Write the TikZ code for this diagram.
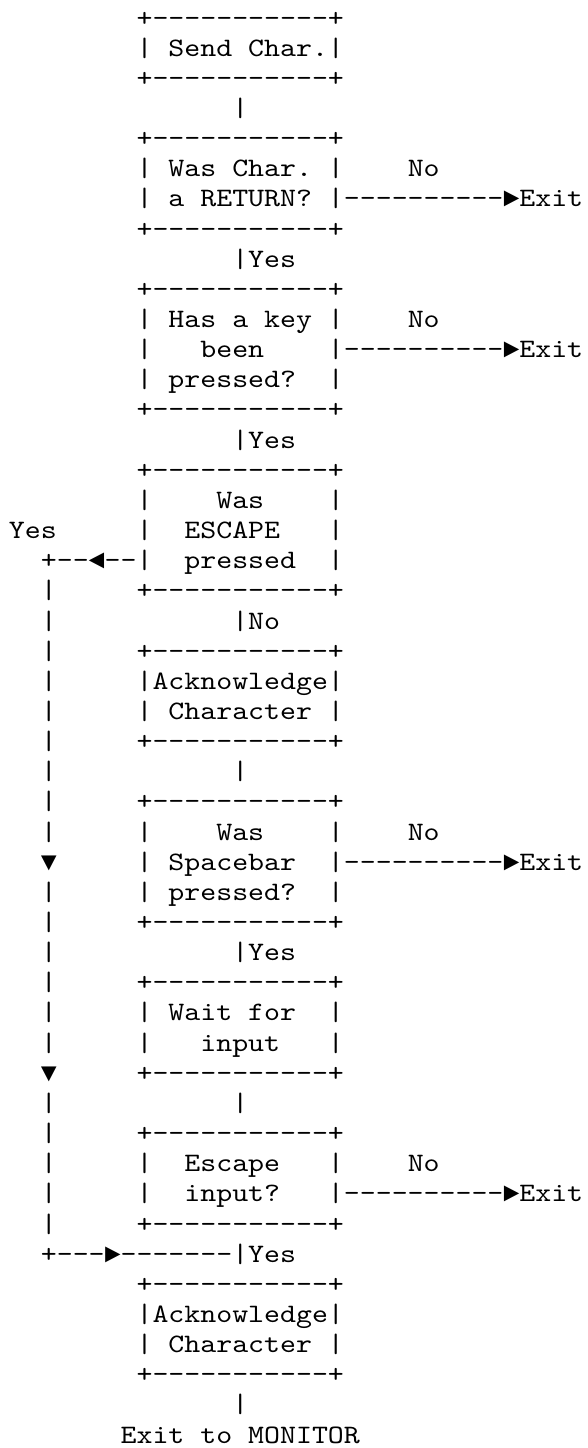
\documentclass[tikz,border=0pt]{standalone}
\usepackage{fontspec}
\setmonofont{lmmono10-regular}[Extension=.otf, FakeStretch=1.142]
\newfontfamily\tipfont{Liberation Mono}
\frenchspacing

% one character cell = 7.975pt wide, one text line = 15.075pt high
\tikzset{
  ascii/.style = {font = \ttfamily\fontsize{13.3pt}{15pt}\selectfont, inner sep = 0pt, outer sep = 0pt, anchor = base west},
  tip/.style = {ascii, font = \tipfont\fontsize{13.3pt}{15pt}\selectfont}
}

\begin{document}
\begin{tikzpicture}[x = 7.975pt, y = -15.075pt]
\useasboundingbox (-4.5pt,-2.075pt) rectangle (289.5pt,-726.075pt);

% Send Char.
\node[ascii] (send-t) at (8,1) {+-----------+};
\node[ascii] (send)   at (8,2) {| Send Char.|};
\node[ascii] (send-b) at (8,3) {+-----------+};
\node[ascii] (l1)     at (14,4) {|};

% Was Char. a RETURN?
\node[ascii] (ret-t)    at (8,5) {+-----------+};
\node[ascii] (ret-1)    at (8,6) {| Was Char. |};
\node[ascii] (ret-2)    at (8,7) {| a RETURN? |};
\node[ascii] (ret-b)    at (8,8) {+-----------+};
\node[ascii] (ret-no)   at (25,6) {No};
\node[ascii] (ret-out)  at (21,7) {----------};
\node[tip]   (ret-tip)  at (31,7) {►};
\node[ascii] (ret-exit) at (32,7) {Exit};
\node[ascii] (l2)       at (14,9) {|Yes};

% Has a key been pressed?
\node[ascii] (key-t)    at (8,10) {+-----------+};
\node[ascii] (key-1)    at (8,11) {| Has a key |};
\node[ascii] (key-2)    at (8,12) {|~~~been~~~~|};
\node[ascii] (key-3)    at (8,13) {| pressed?~~|};
\node[ascii] (key-b)    at (8,14) {+-----------+};
\node[ascii] (key-no)   at (25,11) {No};
\node[ascii] (key-out)  at (21,12) {----------};
\node[tip]   (key-tip)  at (31,12) {►};
\node[ascii] (key-exit) at (32,12) {Exit};
\node[ascii] (l3)       at (14,15) {|Yes};

% Was ESCAPE pressed
\node[ascii] (esc-t)   at (8,16) {+-----------+};
\node[ascii] (esc-1)   at (8,17) {|~~~~Was~~~~|};
\node[ascii] (esc-2)   at (8,18) {|~~ESCAPE~~~|};
\node[ascii] (esc-3)   at (8,19) {|~~pressed~~|};
\node[ascii] (esc-b)   at (8,20) {+-----------+};
\node[ascii] (esc-yes) at (0,18) {Yes};
\node[ascii] (esc-out) at (2,19) {+--};
\node[tip]   (esc-tip) at (5,19) {◄};
\node[ascii] (esc-in)  at (6,19) {--};
\node[ascii] (l4)      at (14,21) {|No};

% Acknowledge Character
\node[ascii] (ack-t) at (8,22) {+-----------+};
\node[ascii] (ack-1) at (8,23) {|Acknowledge|};
\node[ascii] (ack-2) at (8,24) {| Character |};
\node[ascii] (ack-b) at (8,25) {+-----------+};
\node[ascii] (l5)    at (14,26) {|};

% Was Spacebar pressed?
\node[ascii] (spc-t)    at (8,27) {+-----------+};
\node[ascii] (spc-1)    at (8,28) {|~~~~Was~~~~|};
\node[ascii] (spc-2)    at (8,29) {| Spacebar~~|};
\node[ascii] (spc-3)    at (8,30) {| pressed?~~|};
\node[ascii] (spc-b)    at (8,31) {+-----------+};
\node[ascii] (spc-no)   at (25,28) {No};
\node[ascii] (spc-out)  at (21,29) {----------};
\node[tip]   (spc-tip)  at (31,29) {►};
\node[ascii] (spc-exit) at (32,29) {Exit};
\node[ascii] (l6)       at (14,32) {|Yes};

% Wait for input
\node[ascii] (wait-t) at (8,33) {+-----------+};
\node[ascii] (wait-1) at (8,34) {| Wait for~~|};
\node[ascii] (wait-2) at (8,35) {|~~~input~~~|};
\node[ascii] (wait-b) at (8,36) {+-----------+};
\node[ascii] (l7)     at (14,37) {|};

% Escape input?
\node[ascii] (inp-t)    at (8,38) {+-----------+};
\node[ascii] (inp-1)    at (8,39) {|~~Escape~~~|};
\node[ascii] (inp-2)    at (8,40) {|~~input?~~~|};
\node[ascii] (inp-b)    at (8,41) {+-----------+};
\node[ascii] (inp-no)   at (25,39) {No};
\node[ascii] (inp-out)  at (21,40) {----------};
\node[tip]   (inp-tip)  at (31,40) {►};
\node[ascii] (inp-exit) at (32,40) {Exit};

% loop back from ESCAPE
\foreach \r in {20,...,28,30,31,...,35,37,38,...,41}
  \node[ascii] (loop-\r) at (2,\r) {|};
\node[tip]   (loop-29)  at (2,29) {▼};
\node[tip]   (loop-36)  at (2,36) {▼};
\node[ascii] (loop-end) at (2,42) {+---};
\node[tip]   (loop-tip) at (6,42) {►};
\node[ascii] (loop-in)  at (7,42) {-------};
\node[ascii] (l8)       at (14,42) {|Yes};

% Acknowledge Character, then out
\node[ascii] (fin-t) at (8,43) {+-----------+};
\node[ascii] (fin-1) at (8,44) {|Acknowledge|};
\node[ascii] (fin-2) at (8,45) {| Character |};
\node[ascii] (fin-b) at (8,46) {+-----------+};
\node[ascii] (l9)    at (14,47) {|};
\node[ascii] (monitor) at (7,48) {Exit to MONITOR};
\end{tikzpicture}
\end{document}
